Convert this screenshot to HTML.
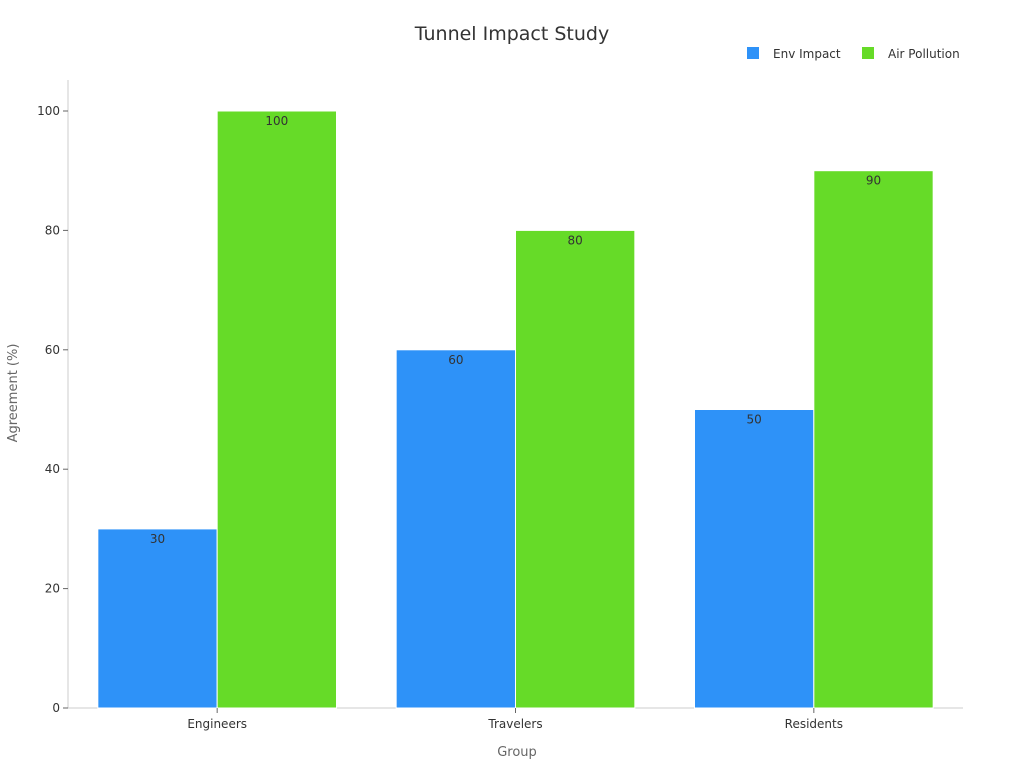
<!DOCTYPE html>
<html><head><meta charset="utf-8"><style>
body{margin:0;background:#fff;font-family:"DejaVu Sans","Liberation Sans",sans-serif;}
</style></head><body>
<svg width="1024" height="768" xmlns="http://www.w3.org/2000/svg" font-family="DejaVu Sans, Liberation Sans, sans-serif">
<text x="512" y="40" text-anchor="middle" font-size="19" fill="#333">Tunnel Impact Study</text>
<g>
<rect x="747" y="47" width="12" height="12" fill="#2e92f8"/>
<text x="773" y="58" font-size="12" fill="#333">Env Impact</text>
<rect x="862" y="47" width="12" height="12" fill="#66db28"/>
<text x="888" y="58" font-size="12" fill="#333">Air Pollution</text>
</g>
<g id="plot"></g>
<text transform="translate(17,393) rotate(-90)" text-anchor="middle" font-size="13" fill="#666">Agreement (%)</text>
<text x="517" y="756" text-anchor="middle" font-size="13" fill="#666">Group</text>
</svg>
<script>
const categories=["Engineers","Travelers","Residents"];
const envValues=[30,60,50];
const airValues=[100,80,90];
const yTicks=[0,20,40,60,80,100];
const NS="http://www.w3.org/2000/svg";
const g=document.getElementById("plot");
const x0=68,x1=963,yBase=708,yTop=111;
const y=v=>yBase-(v/100)*(yBase-yTop);
const band=(x1-x0)/categories.length;
function mk(t,a,txt){const e=document.createElementNS(NS,t);for(const k in a)e.setAttribute(k,a[k]);if(txt!=null)e.textContent=txt;g.appendChild(e);return e;}
let e=mk("line",{x1:x0,y1:80,x2:x0,y2:yBase,stroke:"#ccc"});


e=mk("line",{x1:x0,y1:yBase,x2:x1,y2:yBase,stroke:"#ccc"});


yTicks.forEach(t=>{
 let l=mk("line",{x1:x0-5,y1:y(t),x2:x0,y2:y(t),stroke:"#666"});
 
 
 let s=mk("text",{x:x0-8,y:y(t)+4,"text-anchor":"end","font-size":12,fill:"#333"},t);
 
 
});
const bw=band*0.4;
categories.forEach((c,i)=>{
 const cx=x0+band*(i+0.5);
 [[envValues[i],"#2e92f8",cx-bw,"env"],[airValues[i],"#66db28",cx,"air"]].forEach(([v,col,bx,n])=>{
  let r=mk("rect",{x:bx,y:y(v),width:bw,height:yBase-y(v),fill:col,stroke:"#fff","stroke-width":1});
  
  
  let t=mk("text",{x:bx+bw/2,y:y(v)+14,"text-anchor":"middle","font-size":12,fill:"#333"},v);
  
  
 });
 let tk=mk("line",{x1:cx,y1:yBase,x2:cx,y2:yBase+5,stroke:"#666"});
 
 
 let lb=mk("text",{x:cx,y:yBase+20,"text-anchor":"middle","font-size":12,fill:"#333"},c);
 
 
});
</script>
</body></html>
